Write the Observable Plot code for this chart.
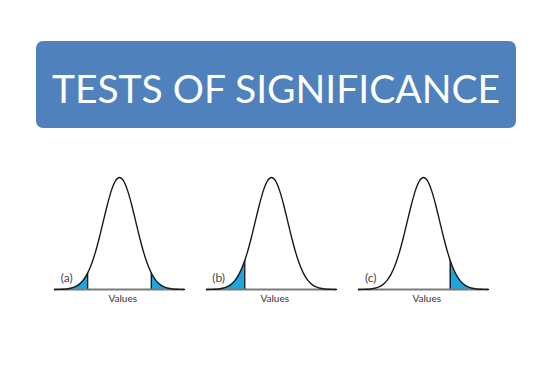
<!DOCTYPE html>
<html>
<head>
<meta charset="utf-8">
<script src="https://cdn.jsdelivr.net/npm/d3@7"></script>
<script src="https://cdn.jsdelivr.net/npm/@observablehq/plot@0.6"></script>
<style>
  html, body { margin: 0; padding: 0; background: #ffffff; width: 550px; height: 388px; overflow: hidden; }
  #title {
    position: absolute; left: 36px; top: 41px; width: 480px; height: 87px;
    background: #4f81bd; border-radius: 7px;
    color: #ffffff; font-family: Lato, "Open Sans", sans-serif; font-size: 39px;
    display: flex; align-items: center; justify-content: center; box-sizing: border-box; padding-top: 6px;
  }
  #chart { position: absolute; left: 0; top: 150px; }
</style>
</head>
<body>
<div id="title">TESTS OF SIGNIFICANCE</div>
<div id="chart"></div>
<script>
// Panels and their labels
const panels = ["(a)", "(b)", "(c)"];
const axisLabel = "Values";
// Curve sample positions (standard units) and heights
const zValues = [-4, -3.75, -3.5, -3.25, -3, -2.75, -2.5, -2.25, -2, -1.75, -1.5, -1.25, -1, -0.75, -0.5, -0.25, 0,
                 0.25, 0.5, 0.75, 1, 1.25, 1.5, 1.75, 2, 2.25, 2.5, 2.75, 3, 3.25, 3.5, 3.75, 4];
const density = [0.0001, 0.0004, 0.0009, 0.0020, 0.0044, 0.0091, 0.0175, 0.0317, 0.0540, 0.0863, 0.1295, 0.1826, 0.2420, 0.3011, 0.3521, 0.3867, 0.3989,
                 0.3867, 0.3521, 0.3011, 0.2420, 0.1826, 0.1295, 0.0863, 0.0540, 0.0317, 0.0175, 0.0091, 0.0044, 0.0020, 0.0009, 0.0004, 0.0001];
// Shaded tails per panel: [panel, side, cut position, curve height at cut]
const tailPanel = ["(a)", "(a)", "(b)", "(c)"];
const tailSide = ["left", "right", "left", "right"];
const tailCut = [-1.96, 1.96, -1.645, 1.645];
const tailCutHeight = [0.0584, 0.0584, 0.1031, 0.1031];

const curve = panels.flatMap(p => zValues.map((z, i) => ({panel: p, z, d: density[i]})));
const tails = tailPanel.flatMap((p, k) => {
  const side = tailSide[k], cut = tailCut[k];
  const pts = zValues.map((z, i) => ({z, d: density[i]}))
    .filter(o => side === "left" ? o.z < cut : o.z > cut);
  const cutPt = {z: cut, d: tailCutHeight[k]};
  const all = side === "left" ? [...pts, cutPt] : [cutPt, ...pts];
  return all.map(o => ({panel: p, id: p + side, z: o.z, d: o.d}));
});
const cuts = tailPanel.map((p, k) => ({panel: p, z: tailCut[k], d: tailCutHeight[k]}));
const labels = panels.map(p => ({panel: p}));

const chart = Plot.plot({
  width: 550,
  height: 238,
  marginTop: 27,
  marginBottom: 99,
  marginLeft: 54,
  marginRight: 62,
  style: {background: "transparent", fontFamily: "Lato, 'Open Sans', sans-serif"},
  fx: {domain: panels, paddingInner: 0.145, paddingOuter: 0, axis: null},
  x: {domain: [-4, 4], axis: null},
  y: {domain: [0, 0.3989], axis: null},
  marks: [
    Plot.areaY(tails, {fx: "panel", x: "z", y: "d", z: "id", fill: "#1ea6dc", curve: "monotone-x"}),
    Plot.ruleX(cuts, {fx: "panel", x: "z", y1: 0, y2: "d", stroke: "#111", strokeWidth: 1.3}),
    Plot.ruleY([0], {stroke: "#7a7a7a", strokeWidth: 2}),
    Plot.lineY(curve, {fx: "panel", x: "z", y: "d", stroke: "#1a1a1a", strokeWidth: 1.4, curve: "monotone-x"}),
    Plot.text(labels, {fx: "panel", x: -3.25, y: 0.04, text: "panel", fontSize: 12, fill: "#444"}),
    Plot.text(labels, {fx: "panel", x: 0.2, y: 0, dy: 9, text: () => axisLabel, fontSize: 10, fill: "#333"})
  ]
});
document.getElementById("chart").appendChild(chart);
</script>
</body>
</html>
